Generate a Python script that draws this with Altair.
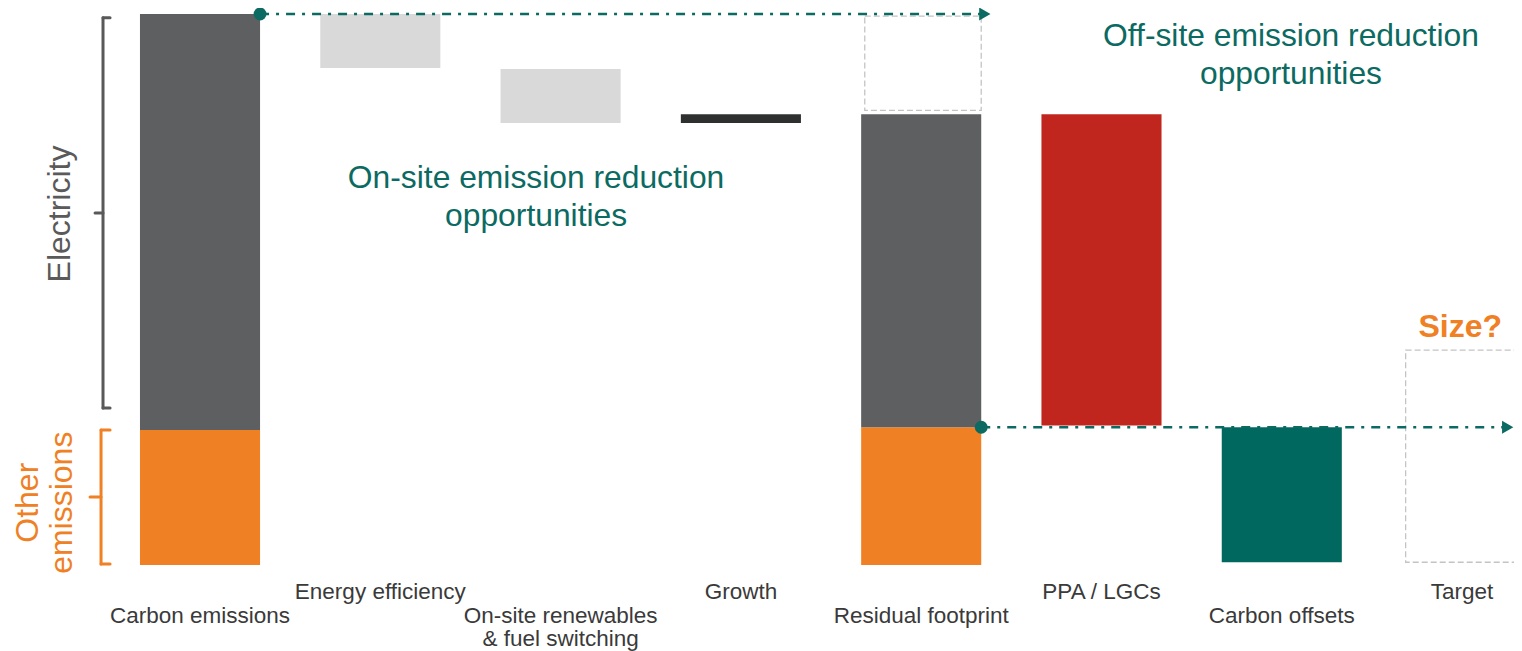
import altair as alt
import pandas as pd

# ---------------- data ----------------
categories = ["Carbon emissions", "Energy efficiency", "On-site renewables\n& fuel switching",
              "Growth", "Residual footprint", "PPA / LGCs", "Carbon offsets", "Target"]
label_row = [1, 0, 1, 0, 1, 0, 1, 0]          # 0 = upper row, 1 = lower row

# floating / stacked bar segments (index into categories, bottom, top, colour)
seg_cat = [0, 0, 1, 2, 3, 4, 4, 5, 6]
seg_lo = [0.0, 24.5, 90.2, 80.2, 80.2, 0.0, 25.0, 25.3, 0.5]
seg_hi = [24.5, 100.0, 100.0, 90.0, 81.8, 25.0, 81.8, 81.8, 25.0]
seg_color = ["#F08024", "#5E5F61", "#D9D9D9", "#D9D9D9", "#2E2F2F",
             "#F08024", "#5E5F61", "#C0261E", "#00685F"]

# dashed outline boxes
box_cat = [4, 7]
box_lo = [82.5, 0.5]
box_hi = [99.6, 39.0]

# dash-dot arrows (from bar right edge of category, to bar right edge / chart end)
arrow_from = [0, 4]
arrow_to = [4, None]
arrow_level = [100.0, 25.0]

# side brackets
bracket_lo = [28.5, 0.2]
bracket_hi = [99.3, 24.5]
bracket_color = ["#595959", "#F08024"]
side_text = ["Electricity", "Other", "emissions"]
side_color = ["#5A5A5A", "#F08024", "#F08024"]

annotations = ["On-site emission reduction\nopportunities", "Off-site emission reduction\nopportunities"]

# ---------------- layout ----------------
W, H = 1506, 643
X_DOM = [-1.065, 7.288]
Y_DOM = [-15.61, 101.09]
HALF = 0.333
TEAL = "#0B6A61"

xs = alt.Scale(domain=X_DOM, nice=False, zero=False)
ys = alt.Scale(domain=Y_DOM, nice=False, zero=False)

def X(f, **k):
    return alt.X(f, type="quantitative", scale=xs, axis=None, **k)

def Y(f, **k):
    return alt.Y(f, type="quantitative", scale=ys, axis=None, **k)

segs = pd.DataFrame({"c": seg_cat, "lo": seg_lo, "hi": seg_hi, "col": seg_color})
segs["x0"] = segs["c"] - HALF
segs["x1"] = segs["c"] + HALF

bars = alt.Chart(segs).mark_rect(strokeWidth=0).encode(
    x=X("x0"), x2="x1", y=Y("lo"), y2="hi",
    color=alt.Color("col:N", scale=None))

boxes_df = pd.DataFrame({"c": box_cat, "lo": box_lo, "hi": box_hi})
boxes_df["x0"] = boxes_df["c"] - HALF + 0.02
boxes_df["x1"] = boxes_df["c"] + HALF
boxes = alt.Chart(boxes_df).mark_rect(
    fillOpacity=0, fill="white", stroke="#C4C4C4", strokeWidth=1.3, strokeDash=[6, 3]
).encode(x=X("x0"), x2="x1", y=Y("lo"), y2="hi")

arr = pd.DataFrame({"a": arrow_from, "b": arrow_to, "lvl": arrow_level})
arr["x0"] = arr["a"] + HALF
arr["x1"] = [b + HALF + 0.02 if b is not None and b == b else X_DOM[1] - 0.035 for b in arr["b"]]
lines = alt.Chart(arr).mark_rule(color=TEAL, strokeWidth=2.5, strokeDash=[9, 7, 3, 7]).encode(
    x=X("x0"), x2="x1", y=Y("lvl"))
dots = alt.Chart(arr).mark_point(shape="circle", filled=True, color=TEAL, size=165, opacity=1).encode(
    x=X("x0"), y=Y("lvl"))
heads = alt.Chart(arr).mark_point(shape="triangle-right", filled=True, color=TEAL, size=170, opacity=1).encode(
    x=X("x1"), y=Y("lvl"))

# brackets
spine = [-0.538, -0.549]
hook = [-0.499, -0.499]
tick = [-0.582, -0.610]
rows = []
for i in range(2):
    lo, hi = bracket_lo[i], bracket_hi[i]
    mid = (lo + hi) / 2
    c = bracket_color[i]
    rows += [
        dict(x=spine[i], x2=spine[i], y=lo, y2=hi, col=c),
        dict(x=spine[i], x2=hook[i], y=hi, y2=hi, col=c),
        dict(x=spine[i], x2=hook[i], y=lo, y2=lo, col=c),
        dict(x=tick[i], x2=spine[i], y=mid, y2=mid, col=c),
    ]
brk = alt.Chart(pd.DataFrame(rows)).mark_rule(strokeWidth=3, strokeCap="round").encode(
    x=X("x"), x2="x2", y=Y("y"), y2="y2", color=alt.Color("col:N", scale=None))

side_df = pd.DataFrame({"t": side_text, "x": [-0.776, -0.954, -0.765],
                        "y": [63.7, 11.3, 11.3], "col": side_color})
side = alt.Chart(side_df).mark_text(angle=270, fontSize=32, font="Liberation Sans",
                                    align="center", baseline="middle").encode(
    x=X("x"), y=Y("y"), text="t:N", color=alt.Color("col:N", scale=None))

lab_df = pd.DataFrame({"t": categories, "c": list(range(len(categories))), "row": label_row})
lab_df["y"] = [-6.26 if r == 0 else -10.53 for r in lab_df["row"]]
labels = alt.Chart(lab_df).mark_text(fontSize=22.5, font="Liberation Sans", color="#3A3A3A",
                                     align="center", baseline="alphabetic", lineBreak="\n",
                                     lineHeight=23).encode(
    x=X("c"), y=Y("y"), text="t:N")

ann_df = pd.DataFrame({"t": annotations, "x": [1.864, 6.051], "y": [68.4, 94.2]})
ann = alt.Chart(ann_df).mark_text(fontSize=31.8, font="Liberation Sans", color=TEAL,
                                  align="center", baseline="alphabetic", lineBreak="\n",
                                  lineHeight=38).encode(
    x=X("x"), y=Y("y"), text="t:N")

size_df = pd.DataFrame({"t": ["Size?"], "x": [6.99], "y": [41.4]})
size_txt = alt.Chart(size_df).mark_text(fontSize=32, font="Liberation Sans", fontWeight="bold",
                                        color="#F08024", align="center", baseline="alphabetic").encode(
    x=X("x"), y=Y("y"), text="t:N")

chart = alt.layer(boxes, bars, lines, dots, heads, brk, side, labels, ann, size_txt).properties(
    width=W, height=H, padding=0,
    autosize=alt.AutoSizeParams(type="none"),
).configure_view(stroke=None)

chart.save("out.html", embed_options={"renderer": "svg", "actions": False})
